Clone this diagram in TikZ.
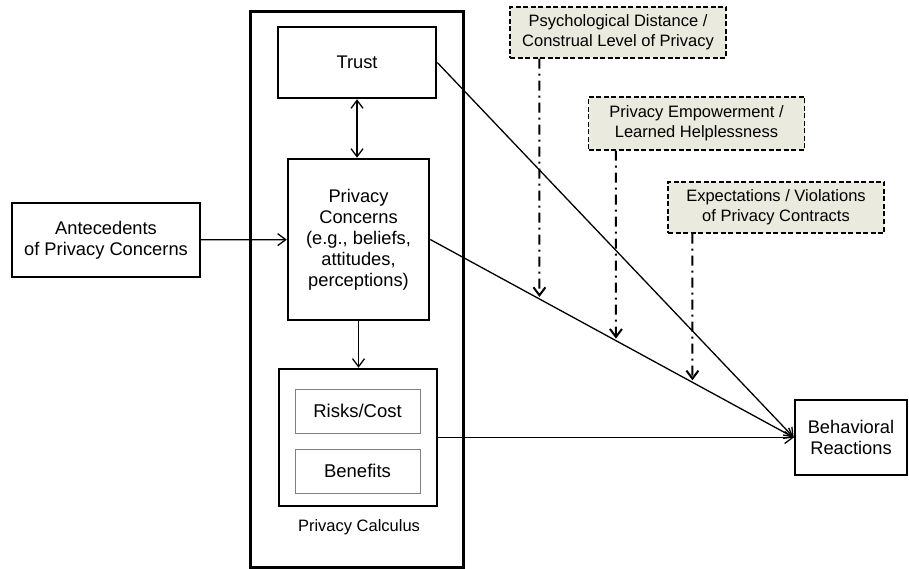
\documentclass[tikz,border=0pt]{standalone}
\usepackage{fontspec}
\setmainfont{Liberation Sans}
\usetikzlibrary{arrows.meta,positioning,calc,intersections}

\definecolor{modfill}{RGB}{234,234,222}

\begin{document}
\begin{tikzpicture}[
    x=1pt, y=-1pt,
    box/.style={draw, line width=2.5pt, align=center, inner sep=0pt, font=\fontsize{18.3}{21}\selectfont},
    subbox/.style={draw=black!50, line width=1pt, align=center, inner sep=0pt, minimum width=125pt, minimum height=44pt, font=\fontsize{18.5}{21}\selectfont},
    modbox/.style={draw, dash pattern=on 5pt off 2.5pt, line width=1.2pt, fill=modfill, align=center, inner sep=0pt, minimum width=216pt, minimum height=51pt, font=\fontsize{16.5}{20}\selectfont},
    conn/.style={->, line width=1.3pt},
    modarrow/.style={->, line width=2pt, dash pattern=on 10pt off 5pt on 2pt off 5pt},
    >={Straight Barb[length=8pt,width=12pt]}
]
\useasboundingbox (0,0) rectangle (909,569);

% ---- container: privacy calculus column ----
\node[draw, line width=3pt, minimum width=213pt, minimum height=555pt, inner sep=0pt] (column) at (356.5,289.5) {};

\node[box, minimum width=158pt, minimum height=71pt] (trust) at (357,62.5) {Trust};
\node[box, minimum width=141pt, minimum height=161pt] (pc) at (358.5,239.5)
  {Privacy\\Concerns\\(e.g., beliefs,\\attitudes,\\perceptions)};
\node[box, minimum width=158pt, minimum height=137pt] (calc) at (358,437.5) {};
\node[subbox] (risks) at (357.5,411) {Risks/Cost};
\node[subbox, below=15pt of risks] (benefits) {Benefits};
\node[font=\fontsize{16.5}{20}\selectfont] (calclabel) at (359,527) {Privacy Calculus};

% ---- left and right ends ----
\node[box, line width=2pt, minimum width=188pt, minimum height=74pt] (ante) at (106,240)
  {Antecedents\\of Privacy Concerns};
\node[box, minimum width=112pt, minimum height=75pt] (beh) at (851,437.5)
  {Behavioral\\Reactions};

% ---- moderators ----
\node[modbox] (mod1) at (618,32.5) {Psychological Distance /\\Construal Level of Privacy};
\node[modbox, minimum height=53pt] (mod2) at (696.5,123.5) {Privacy Empowerment /\\Learned Helplessness};
\node[modbox] (mod3) at (776,207.5) {Expectations / Violations\\of Privacy Contracts};

% arrows
\draw[conn] (ante) -- (pc);
\draw[conn, <->] (trust.south) -- (trust.south |- pc.north);
\draw[conn] (pc.south) -- (pc.south |- calc.north);
\draw[conn] (trust.east) -- (beh.west);
\draw[conn, name path=pcline] (pc.east) -- (beh.west);
\draw[conn] (calc.east) -- (beh.west);

% dash-dot moderator arrows, ending on the concerns -> reactions line
\coordinate (m1) at ($(mod1.south west)+(30,0)$);
\coordinate (m2) at ($(mod2.south west)+(28,0)$);
\coordinate (m3) at ($(mod3.south west)+(25,0)$);
\foreach \m in {m1,m2,m3} {
  \path[name path=v\m] (\m) -- ++(0,400);
  \draw[modarrow, name intersections={of=pcline and v\m}] (\m) -- ($(intersection-1)+(0,-2)$);
}

\end{tikzpicture}
\end{document}
